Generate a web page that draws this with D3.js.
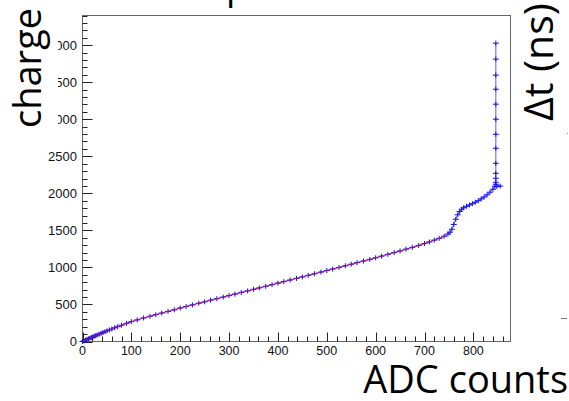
<!DOCTYPE html>
<html><head><meta charset="utf-8">
<script src="https://cdn.jsdelivr.net/npm/d3@7"></script>
<style>body{margin:0;background:#fff}svg{display:block}</style>
</head><body>
<svg id="c" width="569" height="401"></svg>
<script>
const adc = [0,3,6,9,12,15,18,21,24,27,30,34,38,42,46,50,55,60,66,72,80,90,100,112,125,138,150,162,175,188,200,212,225,238,250,262,275,288,300,312,325,338,350,362,375,388,400,412,425,438,450,462,475,488,500,512,525,538,550,562,575,588,600,612,625,638,650,662,675,688,700,710,720,730,740,748,752,756,760,764,768,772,776,780,786,792,798,804,810,816,822,828,834,840,844,848,855,846,846,846,846,846,846,846,846,846,846,846,846,846];
const charge = [0,9,18,27,36,45,54,62,71,79,88,99,110,121,132,143,156,169,185,200,220,245,268,292,318,340,362,384,406,428,452,472,494,516,536,557,578,600,620,640,662,683,704,724,745,767,788,808,830,852,872,893,915,937,958,978,1000,1022,1043,1064,1086,1108,1130,1152,1176,1200,1222,1246,1270,1296,1322,1344,1368,1392,1420,1450,1475,1515,1580,1650,1710,1755,1785,1805,1825,1843,1860,1880,1900,1925,1950,1980,2015,2055,2095,2090,2098,2122,2149,2203,2270,2405,2608,2797,3000,3203,3405,3595,3811,4027];
const fitEnd = 750;
const xTicks = [0,100,200,300,400,500,600,700,800];
const yTicks = [0,500,1000,1500,2000,2500,3000,3500,4000];
const xTitle = "ADC counts", yTitle = "charge", y2Title = "\u0394t (ns)";

const svg = d3.select("#c");
const L = 82.5, R = 510.5, T = 15.5, B = 341.5;
const x = d3.scaleLinear().domain([0, 876]).range([L, R]);
const y = d3.scaleLinear().domain([0, 4400]).range([B, T]);

// frame
svg.append("rect").attr("x", L).attr("y", T).attr("width", R - L).attr("height", B - T)
  .attr("fill", "none").attr("stroke", "#666").attr("stroke-width", 1);

// x ticks (inside)
const gx = svg.append("g");
d3.range(0, 877, 20).forEach(v => {
  const major = v % 100 === 0;
  gx.append("line").attr("x1", Math.round(x(v)) + 0.5).attr("x2", Math.round(x(v)) + 0.5)
    .attr("y1", B).attr("y2", B - (major ? 9 : 5)).attr("stroke", "#222").attr("stroke-width", 1);
});
xTicks.forEach(v => gx.append("text").attr("x", x(v)).attr("y", 355)
  .attr("text-anchor", "middle").attr("font-family", "Liberation Sans, Arial, sans-serif")
  .attr("font-size", 12.5).attr("fill", "#111").text(v));

// y ticks
const gy = svg.append("g");
d3.range(0, 4401, 100).forEach(v => {
  const major = v % 500 === 0;
  gy.append("line").attr("y1", Math.round(y(v)) + 0.5).attr("y2", Math.round(y(v)) + 0.5)
    .attr("x1", L).attr("x2", L + (major ? 10 : 5)).attr("stroke", "#222").attr("stroke-width", 1);
});
yTicks.forEach(v => gy.append("text").attr("x", 77).attr("y", y(v)).attr("dy", "0.35em")
  .attr("text-anchor", "end").attr("font-family", "Liberation Sans, Arial, sans-serif")
  .attr("font-size", 13).attr("fill", "#111").text(v));

// data
const pts = adc.map((a, i) => [a, charge[i]]);
const line = d3.line().x(d => x(d[0])).y(d => y(d[1]));
svg.append("path").attr("d", line(pts)).attr("fill", "none")
  .attr("stroke", "#5a5aff").attr("stroke-width", 1);
const gm = svg.append("g").attr("stroke", "#1010ee").attr("stroke-width", 1);
pts.forEach(d => {
  const cx = x(d[0]), cy = y(d[1]);
  gm.append("path").attr("d", `M${cx - 3},${cy}H${cx + 3}M${cx},${cy - 2.5}V${cy + 2.5}`);
});
svg.append("path").attr("d", line(pts.filter(d => d[0] <= fitEnd && d[1] < 1500)))
  .attr("fill", "none").attr("stroke", "#e0105a").attr("stroke-width", 1).attr("opacity", 0.75);

// titles
const font = "'Open Sans', 'Noto Sans', sans-serif";
svg.append("rect").attr("x", 0).attr("y", 0).attr("width", 58).attr("height", 135).attr("fill", "#fff");
svg.append("text").attr("transform", "translate(41,128) rotate(-90)")
  .attr("font-family", font).attr("font-size", 38).attr("fill", "#000").text(yTitle);
svg.append("text").attr("transform", "translate(553,121) rotate(-90)")
  .attr("font-family", font).attr("font-size", 41).attr("fill", "#000").text(y2Title);
svg.append("text").attr("x", 568).attr("y", 393).attr("text-anchor", "end")
  .attr("font-family", font).attr("font-size", 38).attr("fill", "#000").text(xTitle);
svg.append("text").attr("x", 226).attr("y", -1)
  .attr("font-family", font).attr("font-size", 37).attr("fill", "#000").text("p");
svg.append("line").attr("x1", 561).attr("x2", 567).attr("y1", 318.5).attr("y2", 318.5)
  .attr("stroke", "#777").attr("stroke-width", 1);
svg.append("rect").attr("x", 567).attr("y", 133).attr("width", 1).attr("height", 1).attr("fill", "#999");
</script>
</body></html>
